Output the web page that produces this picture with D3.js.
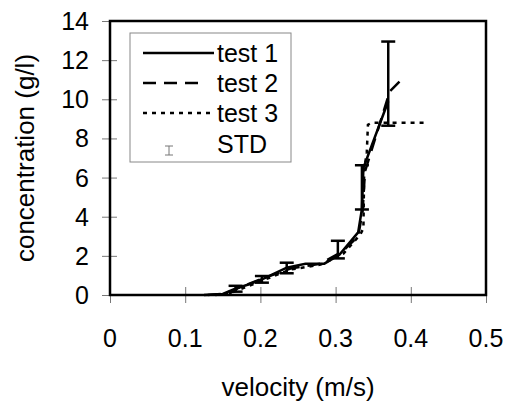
<!DOCTYPE html>
<html>
<head>
<meta charset="utf-8">
<script src="https://cdn.jsdelivr.net/npm/d3@7"></script>
<style>
  body { margin: 0; background: #fff; }
  text { font-family: Arial, "Liberation Sans", sans-serif; fill: #000; }
</style>
</head>
<body>
<svg id="chart"></svg>
<script>
// Chart size and plot box
const WIDTH = 507;
const HEIGHT = 405;
const LEFT = 110, RIGHT = 486, TOP = 21, BOTTOM = 295;

// Data
const test1V = [0.125, 0.15, 0.165, 0.185, 0.205, 0.235, 0.26, 0.285, 0.305, 0.33, 0.335, 0.337, 0.370];
const test1C = [0, 0.05, 0.3, 0.55, 0.85, 1.4, 1.6, 1.6, 2.05, 3.2, 4.4, 6.5, 9.9];

const test2V = [0.13, 0.16, 0.17, 0.2, 0.24, 0.28, 0.31, 0.33, 0.336, 0.339, 0.372, 0.385];
const test2C = [0, 0.1, 0.35, 0.8, 1.35, 1.6, 2.25, 3.0, 4.3, 6.3, 10.4, 10.9];

const test3V = [0.14, 0.16, 0.17, 0.2, 0.24, 0.28, 0.31, 0.333, 0.337, 0.338, 0.3415, 0.343, 0.348, 0.417];
const test3C = [0, 0.1, 0.25, 0.7, 1.3, 1.55, 2.1, 3.1, 3.4, 6.4, 7.3, 8.7, 8.8, 8.8];

const stdV = [0.167, 0.202, 0.235, 0.303, 0.335, 0.370];
const stdMean = [0.32, 0.8, 1.38, 2.32, 5.5, 10.8];
const stdDev = [0.15, 0.17, 0.27, 0.45, 1.13, 2.15];

const xTicks = [0, 0.1, 0.2, 0.3, 0.4, 0.5];
const yTicks = [0, 2, 4, 6, 8, 10, 12, 14];

const svg = d3.select("#chart")
    .attr("width", WIDTH)
    .attr("height", HEIGHT);

const x = d3.scaleLinear().domain([0, 0.5]).range([LEFT, RIGHT]);
const y = d3.scaleLinear().domain([0, 14]).range([BOTTOM, TOP]);

// Axes: thin grey crossing ticks, labels drawn separately
const xAxis = svg.append("g")
    .attr("transform", `translate(0,${BOTTOM})`)
    .call(d3.axisBottom(x).tickValues(xTicks).tickSize(8).tickFormat(""));
xAxis.select(".domain").remove();
xAxis.selectAll(".tick line").attr("y1", -8).attr("stroke", "#777").attr("stroke-width", 1);

const yAxis = svg.append("g")
    .attr("transform", `translate(${LEFT},0)`)
    .call(d3.axisLeft(y).tickValues(yTicks).tickSize(8).tickFormat(""));
yAxis.select(".domain").remove();
yAxis.selectAll(".tick line").attr("x1", 7).attr("x2", -8).attr("stroke", "#777").attr("stroke-width", 1);

svg.append("g").selectAll("text")
    .data(xTicks)
    .join("text")
    .attr("x", d => x(d))
    .attr("y", 347)
    .attr("text-anchor", "middle")
    .attr("font-size", 25)
    .text(d => d === 0 ? "0" : d3.format(".1f")(d));

svg.append("g").selectAll("text")
    .data(yTicks)
    .join("text")
    .attr("x", 89)
    .attr("y", d => y(d) + 9)
    .attr("text-anchor", "end")
    .attr("font-size", 25)
    .text(d => d);

// Plot frame
svg.append("rect")
    .attr("x", LEFT).attr("y", TOP)
    .attr("width", RIGHT - LEFT).attr("height", BOTTOM - TOP)
    .attr("fill", "none")
    .attr("stroke", "#000")
    .attr("stroke-width", 2.5);

// Series lines
const line = d3.line().x(d => x(d[0])).y(d => y(d[1]));
const series = [
    { v: test1V, c: test1C, dash: null },
    { v: test2V, c: test2C, dash: "13,8" },
    { v: test3V, c: test3C, dash: "4,5" }
];
series.forEach(s => {
    svg.append("path")
        .datum(s.v.map((v, i) => [v, s.c[i]]))
        .attr("d", line)
        .attr("fill", "none")
        .attr("stroke", "#000")
        .attr("stroke-width", 2.5)
        .attr("stroke-dasharray", s.dash);
});

// Error bars
const CAP = 7;
const bars = svg.append("g")
    .attr("stroke", "#000")
    .attr("stroke-width", 2.5)
    .selectAll("g")
    .data(stdV.map((v, i) => ({ v, m: stdMean[i], s: stdDev[i] })))
    .join("g");
bars.append("line")
    .attr("x1", d => x(d.v)).attr("x2", d => x(d.v))
    .attr("y1", d => y(d.m - d.s)).attr("y2", d => y(d.m + d.s));
bars.append("line")
    .attr("x1", d => x(d.v) - CAP).attr("x2", d => x(d.v) + CAP)
    .attr("y1", d => y(d.m + d.s)).attr("y2", d => y(d.m + d.s));
bars.append("line")
    .attr("x1", d => x(d.v) - CAP).attr("x2", d => x(d.v) + CAP)
    .attr("y1", d => y(d.m - d.s)).attr("y2", d => y(d.m - d.s));

// Legend
const legend = svg.append("g");
legend.append("rect")
    .attr("x", 130).attr("y", 33)
    .attr("width", 161).attr("height", 129)
    .attr("fill", "#fff")
    .attr("stroke", "#888")
    .attr("stroke-width", 1);

const legendItems = [
    { label: "test 1", dash: null, end: 214 },
    { label: "test 2", dash: "13,8", end: 198 },
    { label: "test 3", dash: "4,5", end: 214 }
];
legendItems.forEach((d, i) => {
    const cy = 53 + i * 30;
    legend.append("line")
        .attr("x1", 143).attr("x2", d.end)
        .attr("y1", cy).attr("y2", cy)
        .attr("stroke", "#000")
        .attr("stroke-width", 2.5)
        .attr("stroke-dasharray", d.dash);
    legend.append("text")
        .attr("x", 217).attr("y", cy + 9)
        .attr("font-size", 25)
        .text(d.label);
});
const std = legend.append("g").attr("stroke", "#777").attr("stroke-width", 1);
std.append("line").attr("x1", 169).attr("x2", 169).attr("y1", 146).attr("y2", 155);
std.append("line").attr("x1", 165).attr("x2", 173).attr("y1", 146).attr("y2", 146);
std.append("line").attr("x1", 165).attr("x2", 173).attr("y1", 155).attr("y2", 155);
legend.append("text")
    .attr("x", 217).attr("y", 153)
    .attr("font-size", 25)
    .text("STD");

// Axis titles
svg.append("text")
    .attr("x", (LEFT + RIGHT) / 2)
    .attr("y", 396)
    .attr("text-anchor", "middle")
    .attr("font-size", 26)
    .text("velocity (m/s)");

svg.append("text")
    .attr("transform", `translate(34,${(TOP + BOTTOM) / 2}) rotate(-90)`)
    .attr("text-anchor", "middle")
    .attr("font-size", 26)
    .text("concentration (g/l)");
</script>
</body>
</html>
